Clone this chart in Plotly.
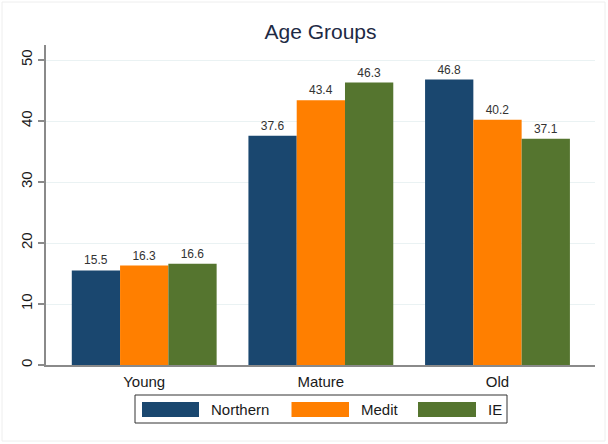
import plotly.graph_objects as go

categories = ["Young", "Mature", "Old"]
series_names = ["Northern", "Medit", "IE"]
northern = [15.5, 37.6, 46.8]
medit = [16.3, 43.4, 40.2]
ie = [16.6, 46.3, 37.1]
series_values = [northern, medit, ie]
colors = ["#1a476f", "#ff7f00", "#55752f"]
y_ticks = [0, 10, 20, 30, 40, 50]

W, H = 608, 444
L, R, T, B = 46, 13, 45, 79
PW, PH = W - L - R, H - T - B

def px(x):
    return (x - L) / PW

def py(y):
    return (H - B - y) / PH

FONT = "Liberation Sans, Arial, sans-serif"

fig = go.Figure()
for name, vals, col in zip(series_names, series_values, colors):
    fig.add_trace(go.Bar(
        x=categories, y=vals, name=name,
        marker=dict(color=col, line=dict(width=0)),
        texttemplate="%{y:.1f}", textposition="outside",
        textfont=dict(size=12, color="#333333", family=FONT),
        cliponaxis=False, showlegend=False, hoverinfo="skip",
    ))

shapes = []
annotations = []
# custom legend (Stata-style wide swatches)
shapes.append(dict(type="rect", xref="paper", yref="paper",
                   x0=px(135), x1=px(507), y0=py(423), y1=py(395),
                   line=dict(color="#333333", width=1), fillcolor="white", layer="above"))
legend_items = [(142, 199, 209), (291.5, 349, 359), (418, 476, 486)]
for (sx0, sx1, tx), name, col in zip(legend_items, series_names, colors):
    shapes.append(dict(type="rect", xref="paper", yref="paper",
                       x0=px(sx0), x1=px(sx1), y0=py(417), y1=py(402),
                       line=dict(width=0), fillcolor=col, layer="above"))
    annotations.append(dict(xref="paper", yref="paper", x=px(tx), y=py(409.5),
                            text=name, showarrow=False, xanchor="left", yanchor="middle",
                            font=dict(size=15, color="#1a1a1a", family=FONT)))
# faint outer border
shapes.append(dict(type="rect", xref="paper", yref="paper",
                   x0=px(2), x1=px(W - 3), y0=py(H - 3), y1=py(2),
                   line=dict(color="#eeeeee", width=1), layer="below"))

fig.update_layout(
    width=W, height=H,
    margin=dict(l=L, r=R, t=T, b=B, pad=0),
    paper_bgcolor="white", plot_bgcolor="white",
    barmode="group", bargap=0.18, bargroupgap=0,
    title=dict(text="Age Groups", x=px(320.5), xref="paper", xanchor="center",
               y=1 - 32 / H, yanchor="middle",
               font=dict(size=21, color="#1e2a44", family=FONT)),
    font=dict(family=FONT, color="#1a1a1a"),
    shapes=shapes, annotations=annotations,
    xaxis=dict(range=[-0.556, 2.552], showgrid=False, ticks="",
               showline=True, linecolor="#8a8a8a", linewidth=1.5,
               tickfont=dict(size=15, color="#1a1a1a"), ticklabelstandoff=2,
               zeroline=False),
    yaxis=dict(range=[0, 52.46], tickvals=y_ticks, tickangle=-90,
               showgrid=True, gridcolor="#eaf2f3", gridwidth=1,
               ticks="outside", ticklen=6, tickcolor="#8a8a8a", tickwidth=1.5,
               showline=True, linecolor="#8a8a8a", linewidth=1.5,
               tickfont=dict(size=15, color="#1a1a1a"), zeroline=False),
)

fig.write_html("out.html", config={"displayModeBar": False},
               post_script="document.body.style.margin='0';document.body.style.overflow='hidden';")
